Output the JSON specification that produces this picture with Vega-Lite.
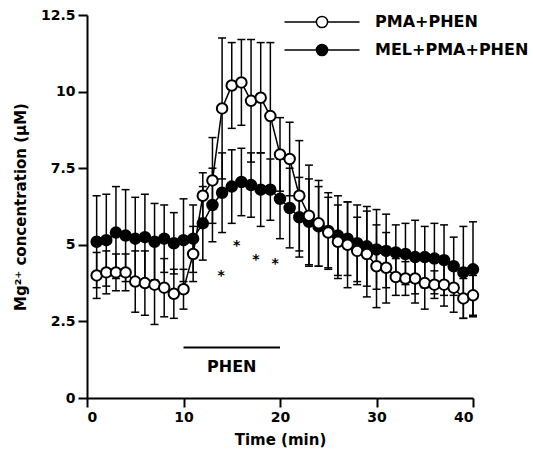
{
  "$schema": "https://vega.github.io/schema/vega-lite/v6.json",
  "width": 386,
  "height": 383,
  "autosize": "none",
  "padding": {"left": 87, "top": 15, "right": 60, "bottom": 61},
  "background": "white",
  "config": {
    "view": {"stroke": null},
    "font": "DejaVu Sans",
    "axis": {
      "domainColor": "black", "domainWidth": 2, "tickColor": "black", "tickWidth": 2, "tickSize": 9,
      "labelFont": "DejaVu Sans", "labelFontWeight": "bold", "labelFontSize": 14, "labelColor": "black",
      "titleFont": "DejaVu Sans", "titleFontWeight": "bold", "titleFontSize": 15, "titleColor": "black",
      "grid": false, "labelPadding": 3
    }
  },
  "datasets": {
    "series": [
      {"t":1,"s":"MEL+PMA+PHEN","v":5.1,"lo":3.6,"hi":6.6},
      {"t":2,"s":"MEL+PMA+PHEN","v":5.15,"lo":3.65,"hi":6.65},
      {"t":3,"s":"MEL+PMA+PHEN","v":5.4,"lo":3.9,"hi":6.9},
      {"t":4,"s":"MEL+PMA+PHEN","v":5.3,"lo":3.8,"hi":6.8},
      {"t":5,"s":"MEL+PMA+PHEN","v":5.2,"lo":3.85,"hi":6.55},
      {"t":6,"s":"MEL+PMA+PHEN","v":5.25,"lo":3.85,"hi":6.65},
      {"t":7,"s":"MEL+PMA+PHEN","v":5.1,"lo":3.85,"hi":6.35},
      {"t":8,"s":"MEL+PMA+PHEN","v":5.2,"lo":4.1,"hi":6.3},
      {"t":9,"s":"MEL+PMA+PHEN","v":5.05,"lo":4.05,"hi":6.05},
      {"t":10,"s":"MEL+PMA+PHEN","v":5.15,"lo":3.8,"hi":6.5},
      {"t":11,"s":"MEL+PMA+PHEN","v":5.2,"lo":4.1,"hi":6.3},
      {"t":12,"s":"MEL+PMA+PHEN","v":5.7,"lo":4.5,"hi":6.9},
      {"t":13,"s":"MEL+PMA+PHEN","v":6.3,"lo":5.1,"hi":7.5},
      {"t":14,"s":"MEL+PMA+PHEN","v":6.7,"lo":5.4,"hi":8.0},
      {"t":15,"s":"MEL+PMA+PHEN","v":6.9,"lo":5.7,"hi":8.1},
      {"t":16,"s":"MEL+PMA+PHEN","v":7.05,"lo":5.95,"hi":8.15},
      {"t":17,"s":"MEL+PMA+PHEN","v":6.95,"lo":5.9,"hi":8.0},
      {"t":18,"s":"MEL+PMA+PHEN","v":6.8,"lo":5.6,"hi":8.0},
      {"t":19,"s":"MEL+PMA+PHEN","v":6.8,"lo":5.8,"hi":7.8},
      {"t":20,"s":"MEL+PMA+PHEN","v":6.5,"lo":5.2,"hi":7.8},
      {"t":21,"s":"MEL+PMA+PHEN","v":6.2,"lo":4.9,"hi":7.5},
      {"t":22,"s":"MEL+PMA+PHEN","v":5.9,"lo":4.6,"hi":7.2},
      {"t":23,"s":"MEL+PMA+PHEN","v":5.75,"lo":4.35,"hi":7.15},
      {"t":24,"s":"MEL+PMA+PHEN","v":5.6,"lo":4.3,"hi":6.9},
      {"t":25,"s":"MEL+PMA+PHEN","v":5.45,"lo":4.2,"hi":6.7},
      {"t":26,"s":"MEL+PMA+PHEN","v":5.3,"lo":4.0,"hi":6.6},
      {"t":27,"s":"MEL+PMA+PHEN","v":5.2,"lo":4.0,"hi":6.4},
      {"t":28,"s":"MEL+PMA+PHEN","v":5.05,"lo":3.8,"hi":6.3},
      {"t":29,"s":"MEL+PMA+PHEN","v":4.95,"lo":3.65,"hi":6.25},
      {"t":30,"s":"MEL+PMA+PHEN","v":4.85,"lo":3.55,"hi":6.15},
      {"t":31,"s":"MEL+PMA+PHEN","v":4.8,"lo":3.6,"hi":6.0},
      {"t":32,"s":"MEL+PMA+PHEN","v":4.75,"lo":3.85,"hi":5.65},
      {"t":33,"s":"MEL+PMA+PHEN","v":4.7,"lo":3.7,"hi":5.7},
      {"t":34,"s":"MEL+PMA+PHEN","v":4.6,"lo":3.4,"hi":5.8},
      {"t":35,"s":"MEL+PMA+PHEN","v":4.6,"lo":3.6,"hi":5.6},
      {"t":36,"s":"MEL+PMA+PHEN","v":4.55,"lo":3.4,"hi":5.7},
      {"t":37,"s":"MEL+PMA+PHEN","v":4.5,"lo":3.35,"hi":5.65},
      {"t":38,"s":"MEL+PMA+PHEN","v":4.3,"lo":3.35,"hi":5.25},
      {"t":39,"s":"MEL+PMA+PHEN","v":4.1,"lo":2.6,"hi":5.6},
      {"t":40,"s":"MEL+PMA+PHEN","v":4.2,"lo":2.65,"hi":5.75},
      {"t":1,"s":"PMA+PHEN","v":4.0,"lo":3.25,"hi":4.75},
      {"t":2,"s":"PMA+PHEN","v":4.1,"lo":3.4,"hi":4.8},
      {"t":3,"s":"PMA+PHEN","v":4.1,"lo":3.5,"hi":4.7},
      {"t":4,"s":"PMA+PHEN","v":4.1,"lo":3.5,"hi":4.7},
      {"t":5,"s":"PMA+PHEN","v":3.8,"lo":2.8,"hi":4.8},
      {"t":6,"s":"PMA+PHEN","v":3.75,"lo":2.7,"hi":4.8},
      {"t":7,"s":"PMA+PHEN","v":3.7,"lo":2.4,"hi":5.0},
      {"t":8,"s":"PMA+PHEN","v":3.6,"lo":2.65,"hi":4.55},
      {"t":9,"s":"PMA+PHEN","v":3.4,"lo":2.6,"hi":4.2},
      {"t":10,"s":"PMA+PHEN","v":3.55,"lo":2.9,"hi":4.2},
      {"t":11,"s":"PMA+PHEN","v":4.7,"lo":3.8,"hi":5.6},
      {"t":12,"s":"PMA+PHEN","v":6.6,"lo":5.85,"hi":7.35},
      {"t":13,"s":"PMA+PHEN","v":7.1,"lo":5.7,"hi":8.5},
      {"t":14,"s":"PMA+PHEN","v":9.45,"lo":7.15,"hi":11.75},
      {"t":15,"s":"PMA+PHEN","v":10.2,"lo":8.8,"hi":11.6},
      {"t":16,"s":"PMA+PHEN","v":10.3,"lo":8.9,"hi":11.7},
      {"t":17,"s":"PMA+PHEN","v":9.7,"lo":7.7,"hi":11.7},
      {"t":18,"s":"PMA+PHEN","v":9.8,"lo":8.0,"hi":11.6},
      {"t":19,"s":"PMA+PHEN","v":9.2,"lo":6.8,"hi":11.6},
      {"t":20,"s":"PMA+PHEN","v":7.95,"lo":6.75,"hi":9.15},
      {"t":21,"s":"PMA+PHEN","v":7.8,"lo":6.6,"hi":9.0},
      {"t":22,"s":"PMA+PHEN","v":6.6,"lo":4.8,"hi":8.4},
      {"t":23,"s":"PMA+PHEN","v":5.95,"lo":4.3,"hi":7.6},
      {"t":24,"s":"PMA+PHEN","v":5.7,"lo":4.3,"hi":7.1},
      {"t":25,"s":"PMA+PHEN","v":5.4,"lo":4.25,"hi":6.55},
      {"t":26,"s":"PMA+PHEN","v":5.1,"lo":3.9,"hi":6.3},
      {"t":27,"s":"PMA+PHEN","v":5.0,"lo":3.6,"hi":6.4},
      {"t":28,"s":"PMA+PHEN","v":4.8,"lo":3.7,"hi":5.9},
      {"t":29,"s":"PMA+PHEN","v":4.7,"lo":3.3,"hi":6.1},
      {"t":30,"s":"PMA+PHEN","v":4.3,"lo":2.95,"hi":5.65},
      {"t":31,"s":"PMA+PHEN","v":4.25,"lo":3.1,"hi":5.4},
      {"t":32,"s":"PMA+PHEN","v":3.95,"lo":3.35,"hi":4.55},
      {"t":33,"s":"PMA+PHEN","v":3.9,"lo":3.35,"hi":4.45},
      {"t":34,"s":"PMA+PHEN","v":3.9,"lo":3.1,"hi":4.7},
      {"t":35,"s":"PMA+PHEN","v":3.75,"lo":2.9,"hi":4.6},
      {"t":36,"s":"PMA+PHEN","v":3.7,"lo":3.25,"hi":4.15},
      {"t":37,"s":"PMA+PHEN","v":3.7,"lo":3.0,"hi":4.4},
      {"t":38,"s":"PMA+PHEN","v":3.6,"lo":2.8,"hi":4.4},
      {"t":39,"s":"PMA+PHEN","v":3.25,"lo":2.6,"hi":3.9},
      {"t":40,"s":"PMA+PHEN","v":3.35,"lo":2.7,"hi":4.0}
    ],
    "stars": [
      {"t":13.9,"y":4.1},
      {"t":15.5,"y":5.1},
      {"t":17.5,"y":4.65},
      {"t":19.5,"y":4.5}
    ],
    "bar": [
      {"x1":10,"x2":20,"y":1.65,"xm":15,"ly":1.0,"label":"PHEN"}
    ]
  },
  "layer": [
    {
      "data": {"name": "series"},
      "mark": {"type": "rule", "color": "black", "strokeWidth": 1.5},
      "encoding": {
        "x": {"field": "t", "type": "quantitative", "title": "Time (min)",
              "scale": {"domain": [0, 40], "nice": false},
              "axis": {"values": [0, 10, 20, 30, 40], "titlePadding": 8}},
        "y": {"field": "lo", "type": "quantitative", "title": "Mg²⁺ concentration (µM)",
              "scale": {"domain": [0, 12.5], "nice": false},
              "axis": {"values": [0, 2.5, 5, 7.5, 10, 12.5], "format": ".3~g", "titlePadding": 12}},
        "y2": {"field": "hi"}
      }
    },
    {
      "data": {"name": "series"},
      "mark": {"type": "tick", "orient": "horizontal", "color": "black", "size": 8, "thickness": 1.5, "opacity": 1},
      "encoding": {
        "x": {"field": "t", "type": "quantitative", "title": "Time (min)"},
        "y": {"field": "lo", "type": "quantitative", "title": "Mg²⁺ concentration (µM)"}
      }
    },
    {
      "data": {"name": "series"},
      "mark": {"type": "tick", "orient": "horizontal", "color": "black", "size": 8, "thickness": 1.5, "opacity": 1},
      "encoding": {
        "x": {"field": "t", "type": "quantitative", "title": "Time (min)"},
        "y": {"field": "hi", "type": "quantitative", "title": "Mg²⁺ concentration (µM)"}
      }
    },
    {
      "data": {"name": "series"},
      "mark": {"type": "line", "color": "black", "strokeWidth": 1.5},
      "encoding": {
        "x": {"field": "t", "type": "quantitative", "title": "Time (min)"},
        "y": {"field": "v", "type": "quantitative", "title": "Mg²⁺ concentration (µM)"},
        "detail": {"field": "s", "type": "nominal"}
      }
    },
    {
      "data": {"name": "series"},
      "mark": {"type": "point", "filled": true, "stroke": "black", "strokeWidth": 2, "size": 110, "opacity": 1},
      "encoding": {
        "x": {"field": "t", "type": "quantitative", "title": "Time (min)"},
        "y": {"field": "v", "type": "quantitative", "title": "Mg²⁺ concentration (µM)"},
        "fill": {"field": "s", "type": "nominal",
                 "scale": {"domain": ["PMA+PHEN", "MEL+PMA+PHEN"], "range": ["white", "black"]},
                 "legend": {"orient": "none", "legendX": 224, "legendY": -4, "title": null,
                            "symbolType": "M-3.75,0H-0.56M0.56,0A0.56,0.56,0,1,1,-0.56,0A0.56,0.56,0,1,1,0.56,0M0.56,0H3.75",
                            "symbolSize": 400, "symbolStrokeColor": "black", "symbolStrokeWidth": 1.5,
                            "symbolOpacity": 1,
                            "labelFont": "DejaVu Sans", "labelFontWeight": "bold", "labelFontSize": 16, "labelColor": "black",
                            "labelOffset": 42, "rowPadding": 8, "padding": 0}}
      }
    },
    {
      "data": {"name": "stars"},
      "mark": {"type": "text", "text": "*", "fontSize": 14, "fontWeight": "bold", "color": "black", "baseline": "middle", "dy": 4},
      "encoding": {
        "x": {"field": "t", "type": "quantitative", "title": "Time (min)"},
        "y": {"field": "y", "type": "quantitative", "title": "Mg²⁺ concentration (µM)"}
      }
    },
    {
      "data": {"name": "bar"},
      "mark": {"type": "rule", "color": "black", "strokeWidth": 2},
      "encoding": {
        "x": {"field": "x1", "type": "quantitative", "title": "Time (min)"},
        "x2": {"field": "x2"},
        "y": {"field": "y", "type": "quantitative", "title": "Mg²⁺ concentration (µM)"}
      }
    },
    {
      "data": {"name": "bar"},
      "mark": {"type": "text", "fontSize": 16, "fontWeight": "bold", "color": "black", "baseline": "middle"},
      "encoding": {
        "x": {"field": "xm", "type": "quantitative", "title": "Time (min)"},
        "y": {"field": "ly", "type": "quantitative", "title": "Mg²⁺ concentration (µM)"},
        "text": {"field": "label"}
      }
    }
  ]
}
